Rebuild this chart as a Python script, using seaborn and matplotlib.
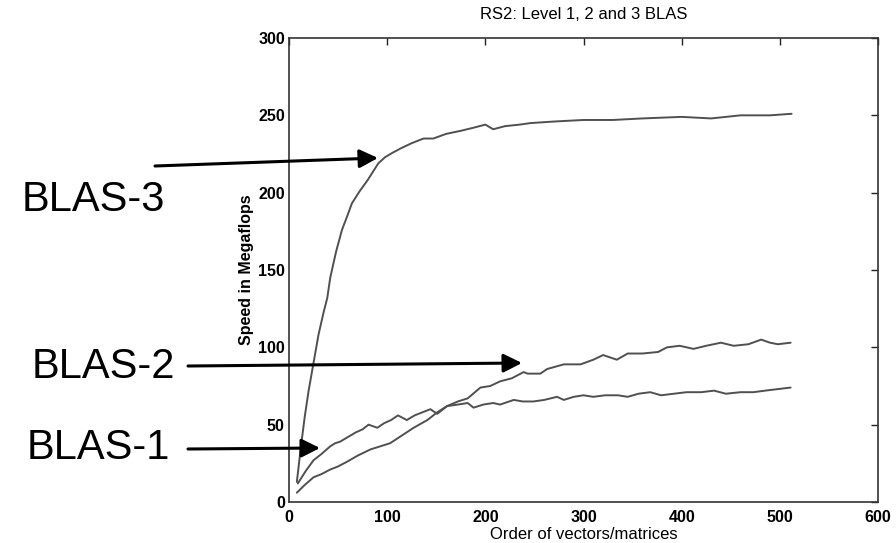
import matplotlib
matplotlib.use("Agg")
import matplotlib.pyplot as plt
import seaborn as sns
import pandas as pd

# BLAS-3 (Level 3)
blas3_x = [8, 12, 16, 20, 25, 30, 35, 39, 42, 48, 54, 60, 64, 72, 80, 86, 91, 98, 106,
           115, 125, 137, 147, 160, 175, 188, 200, 208, 220, 235, 246, 270, 300, 330,
           360, 400, 430, 460, 490, 512]
blas3_y = [13, 35, 55, 72, 90, 108, 122, 132, 145, 162, 176, 186, 193, 201, 208, 214, 219,
           223, 226, 229, 232, 235, 235, 238, 240, 242, 244, 241, 243, 244, 245, 246, 247, 247,
           248, 249, 248, 250, 250, 251]

# BLAS-1 (Level 1)
blas1_x = [9, 17, 25, 33, 42, 47, 52, 60, 68, 75, 81, 90, 97, 104, 111, 120, 128, 136, 144,
           151, 161, 172, 182, 188, 198, 208, 215, 229, 238, 249, 260, 273, 280, 290, 300,
           310, 322, 335, 345, 356, 368, 379, 392, 405, 420, 433, 445, 460, 473, 485, 498, 511]
blas1_y = [12, 20, 27, 31, 36, 38, 39, 42, 45, 47, 50, 48, 51, 53, 56, 53, 56, 58, 60, 57,
           62, 63, 64, 61, 63, 64, 63, 66, 65, 65, 66, 68, 66, 68, 69, 68, 69, 69, 68, 70,
           71, 69, 70, 71, 71, 72, 70, 71, 71, 72, 73, 74]

# BLAS-2 (Level 2)
blas2_x = [8, 16, 25, 33, 42, 50, 59, 70, 83, 93, 103, 115, 127, 141, 151, 161, 172, 182,
           195, 205, 215, 227, 239, 243, 256, 263, 280, 297, 310, 320, 334, 345, 360, 376,
           385, 398, 412, 425, 440, 453, 468, 481, 490, 498, 511]
blas2_y = [6, 11, 16, 18, 21, 23, 26, 30, 34, 36, 38, 43, 48, 53, 58, 62, 65, 67, 74, 75,
           78, 80, 84, 83, 83, 86, 89, 89, 92, 95, 92, 96, 96, 97, 100, 101, 99, 101, 103,
           101, 102, 105, 103, 102, 103]

title = "RS2: Level 1, 2 and 3 BLAS"
xlabel = "Order of vectors/matrices"
ylabel = "Speed in Megaflops"
xticks = [0, 100, 200, 300, 400, 500, 600]
yticks = [0, 50, 100, 150, 200, 250, 300]

sns.set_style("white")
plt.rcParams['font.family'] = ['Liberation Sans', 'DejaVu Sans']
plt.rcParams['text.color'] = 'black'
plt.rcParams['axes.labelcolor'] = 'black'

W, H = 896, 543
fig = plt.figure(figsize=(W / 100, H / 100), dpi=100)
ax = fig.add_axes([289 / W, 1 - 502 / H, (878 - 289) / W, (502 - 38) / H])

line_color = "#505050"
for xs, ys in [(blas3_x, blas3_y), (blas1_x, blas1_y), (blas2_x, blas2_y)]:
    df = pd.DataFrame({"x": xs, "y": ys})
    sns.lineplot(data=df, x="x", y="y", ax=ax, color=line_color, linewidth=1.4,
                 estimator=None, sort=False)

ax.set_xlim(0, 600)
ax.set_ylim(0, 300)
ax.set_xticks(xticks)
ax.set_yticks(yticks)
ax.set_xticklabels([str(t) for t in xticks], fontsize=11.5, fontweight='bold')
ax.set_yticklabels([str(t) for t in yticks], fontsize=11.5, fontweight='bold')
ax.tick_params(axis='x', pad=6)
ax.tick_params(axis='y', pad=3)
ax.tick_params(direction='in', length=5, width=1, top=True, right=True,
               labeltop=False, labelright=False, colors="#222222",
               labelcolor='black')
for s in ax.spines.values():
    s.set_visible(True)
    s.set_color("#333333")
    s.set_linewidth(1.2)

ax.set_xlabel(xlabel, fontsize=12, labelpad=1)
ax.set_ylabel(ylabel, fontsize=11.5, fontweight='bold', labelpad=3)
ax.set_title(title, fontsize=12, pad=14)

# Annotation labels with arrows (figure pixel coordinates, origin bottom-left)
def fp(x, y):
    return (x, H - y)

annots = [
    ("BLAS-3", (93, 200), (155, 166), (378, 158)),
    ("BLAS-2", (103, 367), (188, 366), (522, 363)),
    ("BLAS-1", (98, 448), (188, 449), (320, 448)),
]
for label, tpos, start, tip in annots:
    fig.text(tpos[0] / W, 1 - tpos[1] / H, label, fontsize=30,
             ha='center', va='center', color='black')
    ax.annotate("", xy=fp(*tip), xycoords='figure pixels',
                xytext=fp(*start), textcoords='figure pixels',
                arrowprops=dict(arrowstyle='-|>', mutation_scale=28, lw=2.2,
                                color='black', shrinkA=0, shrinkB=0),
                annotation_clip=False)

fig.savefig("out.png", dpi=100)
